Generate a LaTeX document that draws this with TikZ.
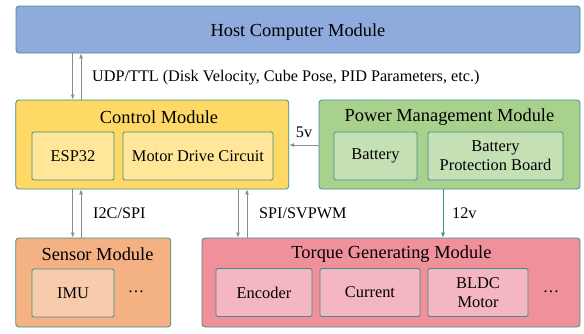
\documentclass[tikz,border=0pt]{standalone}
\usepackage{fontspec}
\setmainfont{Liberation Serif}
\usetikzlibrary{arrows.meta}
\definecolor{edge}{HTML}{3E8E8A}
\definecolor{wire}{HTML}{8C8C8C}
\definecolor{hostfill}{HTML}{8FAADC}
\definecolor{ctrlfill}{HTML}{FFD966}
\definecolor{ctrlpart}{HTML}{FFE699}
\definecolor{powfill}{HTML}{A9D18E}
\definecolor{powpart}{HTML}{C5E0B4}
\definecolor{sensfill}{HTML}{F4B183}
\definecolor{senspart}{HTML}{F8CBAD}
\definecolor{torqfill}{HTML}{EF909B}
\definecolor{torqpart}{HTML}{F4B6C0}

\begin{document}
\begin{tikzpicture}[x=1pt,y=-1pt,
  module/.style={draw=edge,line width=0.8pt,rounded corners=3pt,inner sep=0pt,minimum height=89pt},
  part/.style={draw=edge,line width=0.8pt,rounded corners=1.5pt,inner sep=0pt,minimum height=48pt,align=center,font=\rmfamily\fontsize{16.4}{19}\selectfont},
  title/.style={font=\rmfamily\fontsize{18.4}{22}\selectfont},
  lbl/.style={anchor=west,inner sep=0pt,font=\rmfamily\fontsize{16.2}{19}\selectfont},
  arr/.style={draw=wire,line width=0.8pt,-{Latex[length=5pt,width=4pt]}}]
\useasboundingbox (0,0) rectangle (584,333);
% modules
\node[module,fill=hostfill,minimum width=564pt,minimum height=47pt] (host) at (298,29.5) {};
\node[module,fill=ctrlfill,minimum width=273pt] (ctrl) at (152.3,144.5) {};
\node[module,fill=powfill,minimum width=261pt] (pow) at (449.5,144.5) {};
\node[module,fill=sensfill,minimum width=155pt] (sens) at (93.3,282.5) {};
\node[module,fill=torqfill,minimum width=378pt] (torq) at (391,282.5) {};
% titles
\node[title] (hostt) at (298,32.5) {Host Computer Module};
\node[title] (ctrlt) at (159,117.5) {Control Module};
\node[title] (powt) at (449.5,117.5) {Power Management Module};
\node[title] (senst) at (97.5,254.5) {Sensor Module};
\node[title] (torqt) at (391.5,254.5) {Torque Generating Module};
% parts
\node[part,fill=ctrlpart,minimum width=82pt] (esp) at (73,156) {ESP32};
\node[part,fill=ctrlpart,minimum width=150pt] (mdc) at (198,156) {Motor Drive Circuit};
\node[part,fill=powpart,minimum width=83pt] (bat) at (375.5,156) {Battery};
\node[part,fill=powpart,minimum width=135pt] (bpb) at (495.5,156) {Battery\\Protection Board};
\node[part,fill=senspart,minimum width=82pt] (imu) at (73,293) {IMU};
\node[font=\rmfamily\fontsize{16.4}{19}\selectfont] (sdots) at (136,292) {\dots};
\node[part,fill=torqpart,minimum width=96pt] (enc) at (264,292.5) {Encoder};
\node[part,fill=torqpart,minimum width=100pt] (cur) at (370,292.5) {Current};
\node[part,fill=torqpart,minimum width=100pt] (bldc) at (478,292.5) {BLDC\\Motor};
\node[font=\rmfamily\fontsize{16.4}{19}\selectfont] (tdots) at (551,292) {\dots};
% links
\draw[arr] (72.7,0 |- host.south) -- (72.7,0 |- ctrl.north);
\draw[arr] (81,0 |- ctrl.north) -- (81,0 |- host.south);
\node[lbl] (udp) at (92,77.5) {UDP/TTL (Disk Velocity, Cube Pose, PID Parameters, etc.)};
\draw[arr] (72.7,0 |- ctrl.south) -- (72.7,0 |- sens.north);
\draw[arr] (81,0 |- sens.north) -- (81,0 |- ctrl.south);
\node[lbl] (i2c) at (93,213) {I2C/SPI};
\draw[arr] (238,0 |- ctrl.south) -- (238,0 |- torq.north);
\draw[arr] (247,0 |- torq.north) -- (247,0 |- ctrl.south);
\node[lbl] (spi) at (259,213) {SPI/SVPWM};
\draw[arr] (pow.west |- 0,145) -- (ctrl.east |- 0,145);
\node[lbl,anchor=center] (v5) at (304,132) {5v};
\draw[arr,draw=edge] (443,0 |- pow.south) -- (443,0 |- torq.north);
\node[lbl] (v12) at (452,213) {12v};
\end{tikzpicture}
\end{document}
